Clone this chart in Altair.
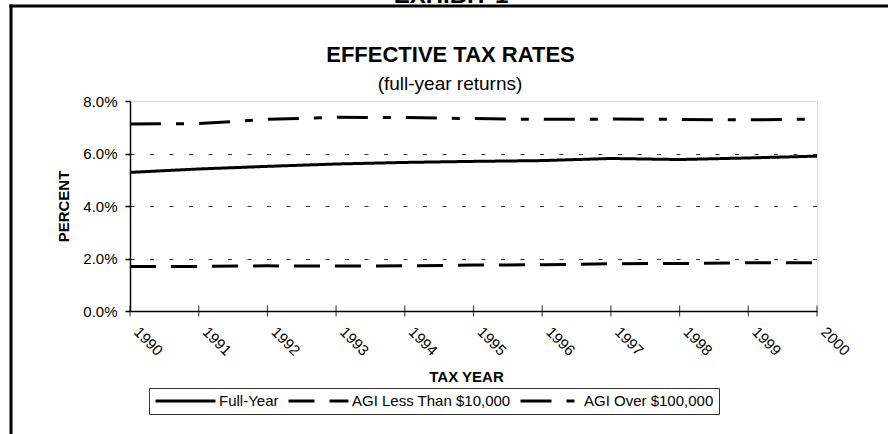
import altair as alt
import pandas as pd

years = [1990, 1991, 1992, 1993, 1994, 1995, 1996, 1997, 1998, 1999, 2000]
full_year = [5.28, 5.41, 5.51, 5.60, 5.66, 5.70, 5.73, 5.81, 5.77, 5.83, 5.90]
agi_less_10k = [1.70, 1.70, 1.72, 1.71, 1.72, 1.75, 1.76, 1.80, 1.81, 1.84, 1.84]
agi_over_100k = [7.12, 7.14, 7.30, 7.38, 7.37, 7.33, 7.30, 7.31, 7.30, 7.28, 7.31]
series_names = ["Full-Year", "AGI Less Than $10,000", "AGI Over $100,000"]
y_ticks = [0, 2, 4, 6, 8]
exhibit_label = ["EXHIBIT 1"]
title_text = ["EFFECTIVE TAX RATES"]
subtitle_text = ["(full-year returns)"]

rows = []
for name, vals in zip(series_names, [full_year, agi_less_10k, agi_over_100k]):
    for yr, v in zip(years, vals):
        rows.append({"year": yr, "series": name, "pct": v})
df = pd.DataFrame(rows)
ticks_df = pd.DataFrame({"year": years})

FONT = "Liberation Sans"

x_enc = alt.X(
    "year:Q",
    scale=alt.Scale(domain=[1990, 2000], nice=False, zero=False),
    axis=alt.Axis(
        values=years, format="d", title="TAX YEAR", ticks=False,
        labelAngle=45, labelAlign="left", labelBaseline="top",
        labelPadding=13, labelOffset=11, labelFontSize=15, labelFont=FONT,
        labelColor="#000", domainColor="#000", domainWidth=1.5,
        titleFont=FONT, titleFontSize=15, titleFontWeight="bold",
        titleColor="#000", titleX=336, titleY=65, titleBaseline="middle",
        titleAnchor="start", titleAlign="center", grid=False,
    ),
)

y_enc = alt.Y(
    "pct:Q",
    scale=alt.Scale(domain=[0, 8], nice=False),
    axis=alt.Axis(
        values=y_ticks, title="PERCENT",
        labelExpr="format(datum.value, '.1f') + '%'",
        labelFontSize=15, labelFont=FONT, labelColor="#000", labelPadding=8,
        tickSize=5, tickColor="#000", tickWidth=1.5,
        domainColor="#000", domainWidth=1.5,
        grid=True, gridDash=[4, 15.5], gridColor="#333", gridWidth=1,
        gridOpacity={"condition": {"test": "datum.value === 8 || datum.value === 0", "value": 0}, "value": 1},
        titleFont=FONT, titleFontSize=15, titleFontWeight="bold", titleColor="#000",
        titleX=-67, titleY=105, titleBaseline="middle", titleAlign="center",
        titleAnchor="start",
    ),
)

lines = alt.Chart(df).mark_line(color="#000", strokeWidth=3).encode(
    x=x_enc,
    y=y_enc,
    strokeDash=alt.StrokeDash(
        "series:N",
        scale=alt.Scale(domain=series_names, range=[[1, 0], [26, 15], [31, 15, 8, 15]]),
        legend=alt.Legend(
            title=None, orient="none", direction="horizontal", legendX=19, legendY=287,
            symbolType="stroke", symbolSize=3600, symbolStrokeWidth=3,
            symbolStrokeColor="#000", labelFont=FONT, labelFontSize=15,
            labelColor="#000", labelOffset=2, columnPadding=8, padding=5,
            strokeColor="#333", fillColor="#fff", clipHeight=16,
        ),
    ),
    order=alt.Order("year:Q"),
)

xticks = alt.Chart(ticks_df).mark_tick(color="#000", size=11, thickness=1.2).encode(
    x=alt.X("year:Q", scale=alt.Scale(domain=[1990, 2000], nice=False, zero=False)),
    y=alt.value(210),
)

exhibit = alt.Chart(pd.DataFrame({"label": exhibit_label})).mark_text(
    font=FONT, fontSize=24, fontWeight="bold", color="#000",
    align="center", baseline="alphabetic",
).encode(text="label:N", x=alt.value(321), y=alt.value(-98))

title = alt.Chart(pd.DataFrame({"label": title_text})).mark_text(
    font=FONT, fontSize=22, fontWeight="bold", color="#000",
    align="center", baseline="alphabetic",
).encode(text="label:N", x=alt.value(320.5), y=alt.value(-39.5))

subtitle = alt.Chart(pd.DataFrame({"label": subtitle_text})).mark_text(
    font=FONT, fontSize=19, color="#000",
    align="center", baseline="alphabetic",
).encode(text="label:N", x=alt.value(320), y=alt.value(-11))

frame_top = alt.Chart(pd.DataFrame({"label": exhibit_label})).mark_rule(
    stroke="#000", strokeWidth=3,
).encode(x=alt.value(-120.5), x2=alt.value(900), y=alt.value(-95))

frame_left = alt.Chart(pd.DataFrame({"label": exhibit_label})).mark_rule(
    stroke="#000", strokeWidth=3,
).encode(x=alt.value(-119), y=alt.value(-96.5), y2=alt.value(900))

chart = alt.layer(frame_top, frame_left, lines, xticks, exhibit, title, subtitle).properties(
    width=687, height=210,
    autosize=alt.AutoSizeParams(type="none"),
    padding={"left": 130, "top": 101, "right": 71, "bottom": 123},
).configure_view(stroke="#999", strokeWidth=1.5).configure(background="#fff")

chart.save("out.html", embed_options={"renderer": "svg", "actions": False})
